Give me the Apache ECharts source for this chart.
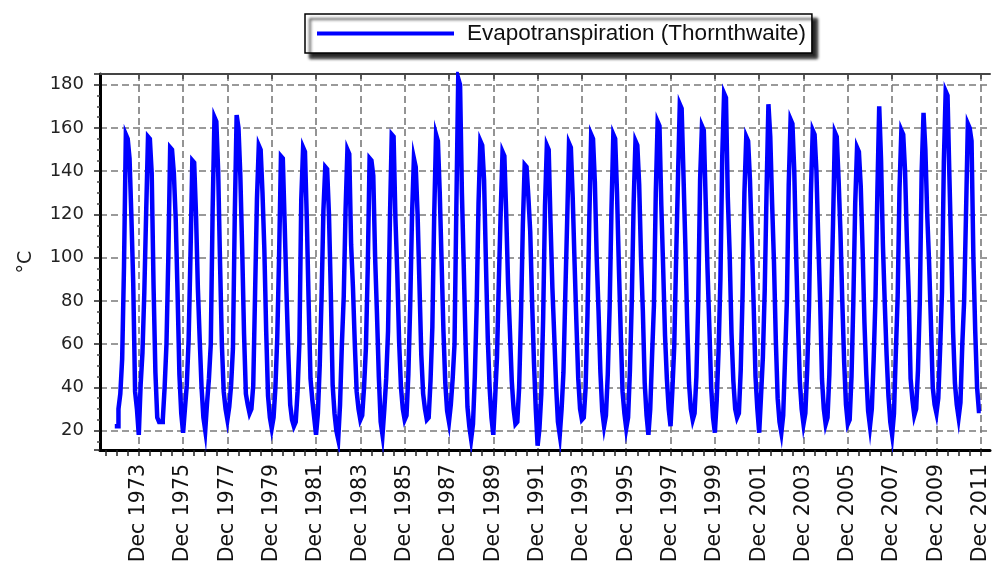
<!DOCTYPE html>
<html><head><meta charset="utf-8">
<script src="https://cdn.jsdelivr.net/npm/echarts@6/dist/echarts.min.js"></script>
<style>html,body{margin:0;padding:0;background:#fff}#c{width:994px;height:568px}</style>
</head><body><div id="c"></div>
<script>
const seriesName = 'Evapotranspiration (Thornthwaite)';
const yAxisName = '°C';
const monthNames = ['Jan','Feb','Mar','Apr','May','Jun','Jul','Aug','Sep','Oct','Nov','Dec'];
const axisStart = { year: 1972, month: 3 };
const axisEnd = { year: 2012, month: 5 };

// Monthly values, Jan..Dec
const et1972 = [null,null,null,null,null,null,null,null,null,null,null,22];
const et1973 = [22, 30, 37, 53, 96, 157, 155, 146, 119, 88, 38, 30];
const et1974 = [18, 41, 56, 84, 121, 156, 155, 139, 87, 47, 26, 24];
const et1975 = [24, 25, 40, 60, 100, 151, 150, 139, 118, 84, 46, 28];
const et1976 = [19, 30, 41, 62, 101, 145, 144, 120, 86, 62, 40, 26];
const et1977 = [20, 33, 44, 60, 122, 165, 163, 140, 98, 60, 38, 30];
const et1978 = [25, 31, 41, 58, 120, 166, 160, 138, 104, 65, 37, 32];
const et1979 = [28, 30, 41, 84, 127, 152, 150, 130, 104, 66, 36, 26];
const et1980 = [21, 26, 40, 63, 101, 147, 146, 116, 84, 55, 32, 25];
const et1981 = [22, 24, 38, 61, 127, 151, 149, 118, 79, 44, 34, 26];
const et1982 = [18, 28, 50, 82, 122, 142, 141, 120, 84, 41, 28, 20];
const et1983 = [16, 32, 60, 82, 122, 150, 148, 106, 86, 60, 38, 30];
const et1984 = [25, 27, 40, 58, 95, 146, 145, 138, 100, 74, 45, 24];
const et1985 = [18, 30, 44, 66, 117, 157, 156, 118, 93, 61, 40, 30];
const et1986 = [25, 27, 46, 78, 120, 146, 142, 120, 88, 55, 37, 30];
const et1987 = [25, 26, 43, 68, 120, 157, 154, 130, 98, 66, 42, 29];
const et1988 = [24, 32, 44, 60, 124, 183, 180, 130, 96, 60, 31, 22];
const et1989 = [16, 23, 45, 78, 125, 154, 152, 136, 98, 63, 40, 26];
const et1990 = [18, 35, 54, 89, 121, 149, 147, 120, 88, 66, 43, 30];
const et1991 = [23, 24, 40, 73, 115, 143, 142, 128, 112, 80, 52, 30];
const et1992 = [13, 21, 37, 72, 124, 152, 150, 116, 86, 64, 41, 24];
const et1993 = [18, 30, 47, 83, 117, 153, 151, 128, 98, 70, 44, 30];
const et1994 = [25, 26, 40, 73, 118, 157, 155, 135, 100, 75, 47, 29];
const et1995 = [22, 27, 46, 77, 122, 157, 155, 130, 96, 66, 38, 28];
const et1996 = [21, 26, 48, 80, 125, 154, 152, 134, 100, 75, 42, 27];
const et1997 = [18, 30, 55, 78, 130, 163, 161, 124, 95, 64, 44, 30];
const et1998 = [22, 39, 59, 99, 136, 171, 169, 138, 106, 70, 42, 30];
const et1999 = [25, 28, 45, 80, 136, 161, 159, 127, 95, 68, 40, 26];
const et2000 = [19, 34, 57, 90, 147, 176, 174, 128, 102, 65, 43, 30];
const et2001 = [26, 28, 48, 83, 130, 156, 154, 136, 108, 78, 45, 30];
const et2002 = [19, 36, 54, 85, 131, 171, 156, 125, 98, 62, 35, 24];
const et2003 = [19, 27, 53, 80, 134, 164, 162, 140, 102, 70, 43, 30];
const et2004 = [23, 28, 48, 78, 130, 159, 157, 140, 108, 80, 44, 30];
const et2005 = [23, 26, 46, 79, 116, 158, 156, 136, 112, 80, 52, 32];
const et2006 = [23, 25, 45, 80, 125, 151, 149, 133, 104, 70, 46, 29];
const et2007 = [22, 30, 53, 82, 130, 170, 145, 106, 79, 55, 36, 24];
const et2008 = [18, 28, 56, 82, 132, 159, 157, 140, 108, 82, 44, 34];
const et2009 = [27, 30, 48, 80, 140, 167, 150, 120, 98, 70, 40, 32];
const et2010 = [28, 35, 58, 84, 144, 177, 175, 138, 103, 66, 42, 32];
const et2011 = [26, 33, 60, 80, 120, 162, 160, 154, 100, 66, 40, 29];

const yearTables = {
  1972: et1972, 1973: et1973, 1974: et1974, 1975: et1975, 1976: et1976, 1977: et1977,
  1978: et1978, 1979: et1979, 1980: et1980, 1981: et1981, 1982: et1982, 1983: et1983,
  1984: et1984, 1985: et1985, 1986: et1986, 1987: et1987, 1988: et1988, 1989: et1989,
  1990: et1990, 1991: et1991, 1992: et1992, 1993: et1993, 1994: et1994, 1995: et1995,
  1996: et1996, 1997: et1997, 1998: et1998, 1999: et1999, 2000: et2000, 2001: et2001,
  2002: et2002, 2003: et2003, 2004: et2004, 2005: et2005, 2006: et2006, 2007: et2007,
  2008: et2008, 2009: et2009, 2010: et2010, 2011: et2011
};

const categories = [];
const values = [];
for (let y = axisStart.year; y <= axisEnd.year; y++) {
  const m0 = (y === axisStart.year) ? axisStart.month : 1;
  const m1 = (y === axisEnd.year) ? axisEnd.month : 12;
  for (let m = m0; m <= m1; m++) {
    categories.push(monthNames[m - 1] + ' ' + y);
    const t = yearTables[y];
    values.push(t ? t[m - 1] : null);
  }
}

const isMajor = (i, v) => v.startsWith('Dec') && (parseInt(v.slice(4), 10) % 2 === 1);
const isTick = (i, v) => v.startsWith('Dec') || v.startsWith('Jun');

const grid = { left: 100, right: 4, top: 74, bottom: 118 };
const dash = { color: '#7a7a7a', width: 1.6, type: [7, 4] };

const chart = echarts.init(document.getElementById('c'), null, { renderer: 'canvas' });
chart.setOption({
  animation: false,
  backgroundColor: '#ffffff',
  grid: grid,
  legend: {
    data: [{ name: seriesName, icon: 'rect' }],
    left: 305, top: 14,
    itemWidth: 137, itemHeight: 4,
    padding: [8, 6, 8, 12],
    backgroundColor: '#ffffff',
    borderColor: '#000', borderWidth: 1.5, borderRadius: 0,
    shadowColor: 'rgba(0,0,0,0.85)', shadowBlur: 3, shadowOffsetX: 5, shadowOffsetY: 5,
    textStyle: { fontFamily: 'Liberation Sans', fontSize: 22.5, color: '#111', padding: [0, 0, 0, 8] }
  },
  xAxis: [{
    type: 'category', data: categories, boundaryGap: false, position: 'bottom',
    axisLine: { show: true, onZero: false, lineStyle: { color: '#000', width: 3 } },
    axisTick: { show: true, interval: isTick, length: 6, lineStyle: { color: '#222', width: 1.5 } },
    axisLabel: { interval: isMajor, rotate: 90, margin: 14, fontFamily: 'DejaVu Sans', fontSize: 20.5, color: '#111' },
    splitLine: { show: true, interval: isMajor, lineStyle: dash }
  }, {
    type: 'category', data: categories, boundaryGap: false, position: 'top',
    axisLine: { show: true, onZero: false, lineStyle: { color: '#444', width: 2 } },
    axisTick: { show: true, inside: true, interval: isMajor, length: 5, lineStyle: { color: '#444', width: 1.5 } },
    axisLabel: { show: false },
    splitLine: { show: false }
  }],
  yAxis: {
    type: 'value', min: 11, max: 185, minInterval: 20, maxInterval: 20, splitNumber: 9,
    name: yAxisName, nameLocation: 'middle', nameGap: 64,
    nameTextStyle: { fontFamily: 'DejaVu Sans', fontSize: 19, color: '#222' },
    axisLine: { show: true, lineStyle: { color: '#000', width: 3 } },
    axisTick: { show: true, length: 6, lineStyle: { color: '#222', width: 1.5 } },
    minorTick: { show: true, splitNumber: 4, length: 3, lineStyle: { color: '#444', width: 1.5 } },
    axisLabel: { showMinLabel: false, showMaxLabel: false, margin: 16, fontFamily: 'DejaVu Sans', fontSize: 18, color: '#222' },
    splitLine: { show: true, lineStyle: dash }
  },
  series: [{
    name: seriesName, type: 'line', step: 'start', data: values,
    showSymbol: false, symbol: 'none', connectNulls: false,
    itemStyle: { color: '#0000ff' },
    lineStyle: { color: '#0000ff', width: 4.5, join: 'miter' }
  }]
});
</script></body></html>
